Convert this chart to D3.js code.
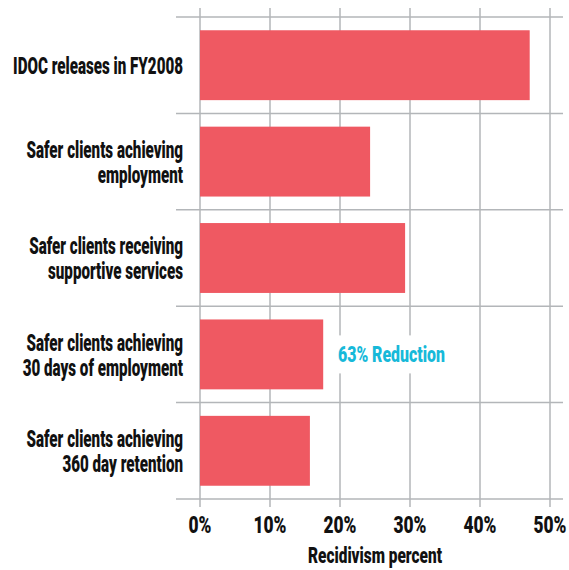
<!DOCTYPE html>
<html>
<head>
<meta charset="utf-8">
<script src="https://cdn.jsdelivr.net/npm/d3@7"></script>
<style>
  body { margin: 0; background: #fff; }
  text { font-family: Roboto, "DejaVu Sans", sans-serif; font-weight: 900; }
</style>
</head>
<body>
<svg width="569" height="570"></svg>
<script>
const categories = [
  ["IDOC releases in FY2008"],
  ["Safer clients achieving", "employment"],
  ["Safer clients receiving", "supportive services"],
  ["Safer clients achieving", "30 days of employment"],
  ["Safer clients achieving", "360 day retention"]
];
const values = [47.1, 24.3, 29.3, 17.6, 15.7];
const ticks = [0, 10, 20, 30, 40, 50];

const svg = d3.select("svg");

const x = d3.scaleLinear().domain([0, 50]).range([200, 550]);
const y = d3.scaleBand().domain(d3.range(categories.length)).range([17, 499]).paddingInner(0.275).paddingOuter(0.1375);

// squeeze text horizontally around its anchor so it looks like a condensed face
function condense(sel, k) {
  sel.each(function() {
    const ax = +this.getAttribute("x") || 0;
    this.setAttribute("transform", `translate(${ax},0) scale(${k},1) translate(${-ax},0)`);
  });
}

const grid = svg.append("g").attr("stroke", "#b3b6b9").attr("stroke-width", 1.5);

const step = (499 - 17) / categories.length;
grid.selectAll("line.h")
  .data(d3.range(categories.length + 1))
  .enter().append("line")
  .attr("x1", 176).attr("x2", 563)
  .attr("y1", d => 17 + d * step).attr("y2", d => 17 + d * step);

grid.selectAll("line.v")
  .data(ticks)
  .enter().append("line")
  .attr("x1", d => x(d)).attr("x2", d => x(d))
  .attr("y1", 8).attr("y2", 507);

svg.append("g")
  .selectAll("rect")
  .data(values)
  .enter().append("rect")
  .attr("x", x(0))
  .attr("y", (d, i) => y(i))
  .attr("width", d => x(d) - x(0))
  .attr("height", y.bandwidth())
  .attr("fill", "#ef5962");

// category labels
const catLabels = svg.append("g")
  .selectAll("text")
  .data(categories)
  .enter().append("text")
  .attr("x", 183)
  .attr("text-anchor", "end")
  .attr("font-size", 23)
  .attr("fill", "#111")
  .each(function(d, i) {
    const cy = y(i) + y.bandwidth() / 2;
    const t = d3.select(this);
    d.forEach((line, j) => {
      t.append("tspan")
        .attr("x", 183)
        .attr("y", cy + (j - (d.length - 1) / 2) * 25 + 9)
        .text(line);
    });
  });
const refW = catLabels.nodes()[0].getComputedTextLength();
condense(catLabels, 170 / refW);

// tick labels
const tickLabels = svg.append("g")
  .selectAll("text")
  .data(ticks)
  .enter().append("text")
  .attr("x", d => x(d))
  .attr("y", 533)
  .attr("text-anchor", "middle")
  .attr("font-size", 23)
  .attr("fill", "#111")
  .text(d => d + "%");
condense(tickLabels, 33 / tickLabels.nodes()[5].getComputedTextLength());

const title = svg.append("text")
  .attr("x", 375)
  .attr("y", 563)
  .attr("text-anchor", "middle")
  .attr("font-size", 22)
  .attr("fill", "#111")
  .text("Recidivism percent");
condense(title, 134 / title.node().getComputedTextLength());

// annotation with white backing over the grid
const ann = svg.append("g");
const annY = y(3) + y.bandwidth() / 2;
ann.append("rect")
  .attr("x", 333).attr("y", annY - 19)
  .attr("width", 118).attr("height", 38)
  .attr("fill", "#fff");
const annText = ann.append("text")
  .attr("x", 338)
  .attr("y", 362)
  .attr("font-size", 22)
  .attr("fill", "#17b9d9")
  .text("63% Reduction");
condense(annText, 107 / annText.node().getComputedTextLength());
</script>
</body>
</html>
